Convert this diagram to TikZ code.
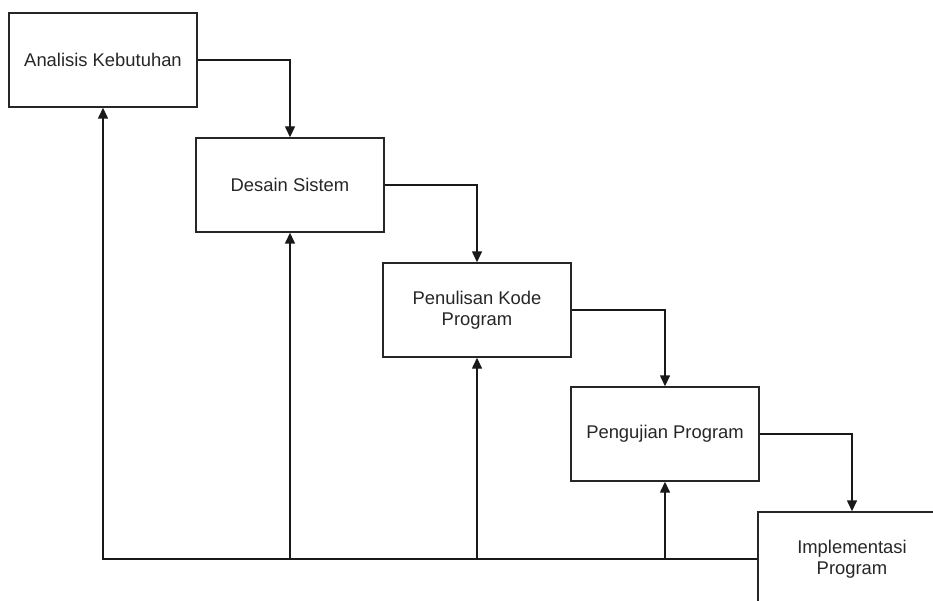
\documentclass[tikz,border=0pt]{standalone}
\usepackage{fontspec}
\setmainfont{Liberation Sans}
\usetikzlibrary{arrows.meta}

\tikzset{
  tahap/.style={draw=black!85, line width=1.4pt, minimum width=188pt, minimum height=94pt,
    align=center, text=black!85, font=\fontsize{18.4}{21.5}\selectfont},
  alur/.style={draw=black!90, line width=1.4pt, -{Triangle[length=11pt,width=10pt]}}
}

\begin{document}
\begin{tikzpicture}[x=1pt, y=-1pt]
                \useasboundingbox (0,0) rectangle (933,601);
                \node[tahap] (A) at (103,60) {Analisis Kebutuhan};
                \node[tahap] (D) at (290,185) {Desain Sistem};
                \node[tahap] (P) at (477,310) {Penulisan Kode\\Program};
                \node[tahap] (U) at (665,434) {Pengujian Program};
                \node[tahap] (I) at (852,559) {Implementasi\\Program};
                % maju
                \draw[alur] (A.east) -| (D.north);
                \draw[alur] (D.east) -| (P.north);
                \draw[alur] (P.east) -| (U.north);
                \draw[alur] (U.east) -| (I.north);
                % umpan balik
                \draw[alur] (I.west) -| (A.south);
                \draw[alur] (D.south |- I.west) -- (D.south);
                \draw[alur] (P.south |- I.west) -- (P.south);
                \draw[alur] (U.south |- I.west) -- (U.south);
            \end{tikzpicture}
\end{document}
